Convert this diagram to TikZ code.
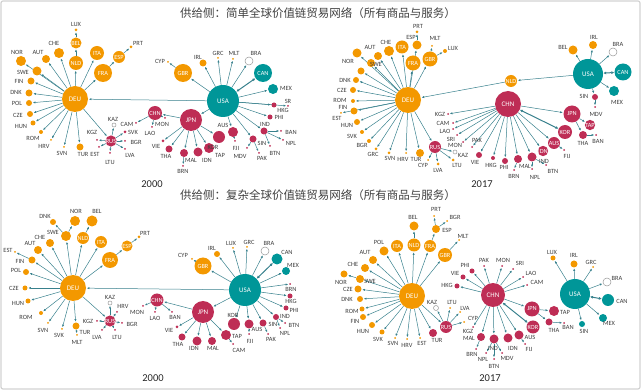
\documentclass[tikz,border=0pt]{standalone}
\usepackage{fontspec}
\setmainfont{Carlito}
\newfontfamily\cjk{Noto Sans CJK SC}
\usetikzlibrary{arrows.meta,backgrounds}

\definecolor{gvcorange}{RGB}{243,152,0}
\definecolor{gvcred}{RGB}{190,45,85}
\definecolor{gvcteal}{RGB}{0,150,152}
\definecolor{edgecol}{RGB}{55,128,140}
\definecolor{lblgray}{RGB}{60,60,60}

\tikzset{
  ornode/.style={circle,fill=gvcorange,inner sep=0pt,minimum size=#1pt},
  rdnode/.style={circle,fill=gvcred,inner sep=0pt,minimum size=#1pt},
  tlnode/.style={circle,fill=gvcteal,inner sep=0pt,minimum size=#1pt},
  whnode/.style={circle,draw=gray!80,fill=white,line width=0.5pt,inner sep=0pt,minimum size=#1pt},
  inlbl/.style={text=white,font=\fontsize{6.3}{7}\selectfont},
  biglbl/.style={text=white,font=\fontsize{7}{8}\selectfont},
  lbl/.style={text=lblgray,font=\fontsize{6.4}{7}\selectfont,inner sep=0pt},
  edge/.style={draw=edgecol,line width=0.5pt,-{Latex[length=2.6pt,width=2.2pt]},shorten >=0.6pt},
  dbl/.style={draw=edgecol,line width=1pt,{Latex[length=3pt,width=3pt]}-{Latex[length=3pt,width=3pt]}},
  title/.style={font=\cjk\fontsize{11.5}{12}\selectfont,text=black!75},
  year/.style={font=\fontsize{10.5}{12}\selectfont,text=black!85}
}

\begin{document}
\begin{tikzpicture}[x=1pt,y=-1pt]
\useasboundingbox (0,0) rectangle (641,390);
% frame
\draw[gray!35,line width=1.2pt,rounded corners=2pt] (1,1) rectangle (640,389);
% titles and years
\node[title] (t1) at (318,13) {供给侧：简单全球价值链贸易网络（所有商品与服务）};
\node[title] (t2) at (318,195) {供给侧：复杂全球价值链贸易网络（所有商品与服务）};
\node[year] (y1) at (152,184) {2000};
\node[year] (y2) at (482,184) {2017};
\node[year] (y3) at (153,378) {2000};
\node[year] (y4) at (490,378) {2017};

%%%%%%%% simple GVC, 2000
% hubs
\node[ornode=26,biglbl] (aDEU) at (75,99) {DEU};
\node[tlnode=32,biglbl] (aUSA) at (223,101) {USA};
\node[rdnode=14,inlbl] (aCHN) at (155,113) {CHN};
\node[rdnode=22,biglbl] (aJPN) at (191,120) {JPN};
\node[rdnode=11,inlbl] (aRUS) at (111,141) {RUS};
\node[ornode=14,inlbl] (aNLD) at (76,63) {NLD};
\node[ornode=11,inlbl] (aBEL) at (76,43) {BEL};
\node[ornode=14,inlbl] (aITA) at (97,53) {ITA};
\node[ornode=18,inlbl] (aFRA) at (103,73) {FRA};
\node[ornode=12,inlbl] (aESP) at (119,57) {ESP};
\node[ornode=18,inlbl] (aGBR) at (183,73) {GBR};
\node[tlnode=18,inlbl] (aCAN) at (263,73) {CAN};
% leaves
\foreach \n/\x/\y/\s/\lx/\ly in {LUX/76/30/3/76/24, PRT/131/47/3/138/43, CHE/59/53/10/54/43,
  AUT/46/59/8/38/52, NOR/21/61/10/17/52, SWE/37/71/9/23/72, FIN/31/81/7/19/81,
  DNK/29/93/7/16/92, POL/29/103/6/17/103, CZE/30/114/6/18/115, HUN/33/123/5/21/126,
  ROM/41/132/4/33/138, HRV/51/140/2/44/146, SVN/64/147/2/62/153, TUR/80/147/7/83/154,
  CYP/168/62/2/160/61, IRL/203/63/7/198/57, GRC/218/58/2/218/53, MLT/233/59/2/234/53}{
  \node[ornode=\s] (a\n) at (\x,\y) {};
  \node[lbl] (a\n-t) at (\lx,\ly) {\n};
}
\foreach \n/\x/\y/\s/\lx/\ly in {KGZ/97/140/2/92/132, SVK/125/132/3/133/132, BGR/125/141/2/136/142,
  EST/99/147/2/95/154, LTU/110/153/2/110/162, LVA/125/149/2/130/155, CAM/136/123/2/127/124,
  MON/165/118/2/162/124, LAO/152/127/2/150/133, VIE/163/141/3/156/146, THA/169/149/7/166/156,
  MAL/184/153/8/191/160, BRN/183/166/2/183/171, IDN/198/152/9/207/160, TAP/209/148/10/220/155,
  KOR/219/137/12/213/147, AUS/233/132/10/223/125, FJI/235/141/2/236/148, MDV/247/148/2/240/156,
  SIN/253/139/7/262/143, PAK/259/153/2/262/158, BTN/270/146/2/275/153, IND/264/131/7/265/124,
  BAN/281/131/2/291/132, NPL/283/140/2/291/143, PHI/270/117/5/279/117, HKG/274/105/5/283/110,
  SR/288/106/2/288/101}{
  \node[rdnode=\s] (a\n) at (\x,\y) {};
  \node[lbl] (a\n-t) at (\lx,\ly) {\n};
}
\node[tlnode=10] (aMEX) at (273,89) {};
\node[lbl] (aMEX-t) at (286,88) {MEX};
\node[whnode=8] (aBRA) at (249,61) {};
\node[lbl] (aBRA-t) at (256,53) {BRA};
\node[whnode=4] (aKAZ) at (114,125) {};
\node[lbl] (aKAZ-t) at (113,119) {KAZ};
% links
\begin{pgfonlayer}{background}
\foreach \t in {NLD,ITA,FRA,CHE,AUT,NOR,SWE,FIN,DNK,POL,CZE,HUN,ROM,HRV,SVN,TUR,RUS}
  \draw[edge] (aDEU) -- (a\t);
\foreach \t in {KAZ,SVK,BGR,LVA,LTU,EST,KGZ} \draw[edge] (aRUS) -- (a\t);
\foreach \t in {DEU,JPN,GBR,IRL,GRC,MLT,BRA,MEX,SR,HKG,PHI,IND,SIN,AUS} \draw[edge] (aUSA) -- (a\t);
\foreach \t in {CHN,KOR,TAP,IDN,MAL,THA,VIE} \draw[edge] (aJPN) -- (a\t);
\foreach \t in {MON,LAO,CAM} \draw[edge] (aCHN) -- (a\t);
\foreach \t in {BAN,NPL,BTN} \draw[edge] (aIND) -- (a\t);
\foreach \t in {PAK,MDV} \draw[edge] (aSIN) -- (a\t);
\draw[edge] (aNLD) -- (aBEL);
\draw[edge] (aBEL) -- (aLUX);
\draw[edge] (aFRA) -- (aESP);
\draw[edge] (aESP) -- (aPRT);
\draw[edge] (aGBR) -- (aCYP);
\draw[edge] (aMAL) -- (aBRN);
\draw[edge] (aAUS) -- (aFJI);
\draw[dbl] (aUSA) -- (aCAN);
\end{pgfonlayer}

%%%%%%%% simple GVC, 2017
% hubs
\node[ornode=26,biglbl] (bDEU) at (408,100) {DEU};
\node[rdnode=26,biglbl] (bCHN) at (508,104) {CHN};
\node[tlnode=30,biglbl] (bUSA) at (588,74) {USA};
\node[tlnode=17,inlbl] (bCAN) at (623,72) {CAN};
\node[rdnode=17,inlbl] (bJPN) at (572,114) {JPN};
\node[rdnode=14,inlbl] (bKOR) at (565,132) {KOR};
\node[rdnode=10,inlbl] (bTAP) at (590,125) {TAP};
\node[rdnode=12,inlbl] (bAUS) at (554,143) {AUS};
\node[rdnode=10,inlbl] (bIDN) at (543,151) {IDN};
\node[rdnode=12,inlbl] (bRUS) at (435,147) {RUS};
\node[ornode=12,inlbl] (bNLD) at (511,81) {NLD};
\node[ornode=13,inlbl] (bITA) at (402,47) {ITA};
\node[ornode=15,inlbl] (bFRA) at (413,63) {FRA};
\node[ornode=15,inlbl] (bGBR) at (430,59) {GBR};
% leaves
\foreach \n/\x/\y/\s/\lx/\ly in {PRT/417/32/3/418/26, ESP/417/45/9/411/37, MLT/432/46/2/435/38,
  LUX/445/51/4/453/48, CHE/389/51/10/386/42, AUT/378/56/8/370/47, NOR/357/53/9/348/61,
  SWE/371/63/8/376/64, DNK/356/80/6/345/80, CZE/353/90/6/342/90, ROM/353/101/4/340/100,
  FIN/354/111/7/343/107, EST/341/113/2/337/118, HUN/357/122/6/347/125, SVK/362/132/4/352/136,
  BGR/369/141/4/362/145, GRC/376/149/3/373/154, SVN/389/153/3/390/158, HRV/406/153/2/403/159,
  TUR/420/153/8/416/159, CYP/428/160/2/423/165, LVA/438/164/3/438/170, LTU/453/160/3/457/165,
  BEL/573/50/9/563/47, IRL/593/45/8/594/37}{
  \node[ornode=\s] (b\n) at (\x,\y) {};
  \node[lbl] (b\n-t) at (\lx,\ly) {\n};
}
\node[ornode=7] (bPOL) at (361,71) {};
\foreach \n/\x/\y/\s/\lx/\ly in {KGZ/448/114/2/440/114, CAM/453/123/2/443/123, LAO/453/129/2/445/131,
  SRI/457/135/2/451/139, MON/463/142/2/455/145, PAK/472/147/2/477/140, VIE/479/155/6/475/162,
  HKG/493/158/4/491/165, PHI/505/161/6/504/167, BRN/514/170/2/514/176, MAL/518/159/8/525/166,
  NPL/532/169/2/535/177, IND/532/157/9/544/161, BTN/546/165/2/553/171, FIJ/564/150/2/567/156,
  THA/583/135/8/583/143, BAN/596/135/2/598/141, SIN/595/97/6/584/96, MDV/595/107/2/596/114}{
  \node[rdnode=\s] (b\n) at (\x,\y) {};
  \node[lbl] (b\n-t) at (\lx,\ly) {\n};
}
\node[tlnode=10] (bMEX) at (614,91) {};
\node[lbl] (bMEX-t) at (617,102) {MEX};
\node[whnode=8] (bBRA) at (613,52) {};
\node[lbl] (bBRA-t) at (618,44) {BRA};
\node[whnode=4] (bKAZ) at (455,152) {};
\node[lbl] (bKAZ-t) at (463,155) {KAZ};
% links
\begin{pgfonlayer}{background}
\foreach \t in {ITA,CHE,AUT,NOR,SWE,POL,DNK,CZE,ROM,FIN,EST,HUN,SVK,BGR,GRC,SVN,HRV,TUR,RUS,FRA,GBR,ESP}
  \draw[edge] (bDEU) -- (b\t);
\foreach \t in {CYP,LVA,LTU,KAZ} \draw[edge] (bRUS) -- (b\t);
\foreach \t in {NLD,BEL,IRL,BRA,MEX,SIN} \draw[edge] (bUSA) -- (b\t);
\foreach \t in {KGZ,CAM,LAO,SRI,MON,PAK,VIE,HKG,PHI,MAL,IND,IDN,AUS,JPN} \draw[edge] (bCHN) -- (b\t);
\foreach \t in {NPL,BTN} \draw[edge] (bIND) -- (b\t);
\foreach \t in {TAP,THA} \draw[edge] (bJPN) -- (b\t);
\foreach \t in {MLT,LUX} \draw[edge] (bGBR) -- (b\t);
\draw[edge] (bNLD) -- (bDEU);
\draw[edge] (bESP) -- (bPRT);
\draw[edge] (bSIN) -- (bMDV);
\draw[edge] (bMAL) -- (bBRN);
\draw[edge] (bAUS) -- (bFIJ);
\draw[edge] (bTHA) -- (bBAN);
\draw[dbl] (bUSA) -- (bCAN);
\draw[dbl] (bCHN) -- (bKOR);
\end{pgfonlayer}

%%%%%%%% complex GVC, 2000
% hubs
\node[ornode=26,biglbl] (cDEU) at (73,288) {DEU};
\node[tlnode=32,biglbl] (cUSA) at (245,290) {USA};
\node[rdnode=22,biglbl] (cJPN) at (203,312) {JPN};
\node[rdnode=13,inlbl] (cCHN) at (157,300) {CHN};
\node[rdnode=11,inlbl] (cRUS) at (110,321) {RUS};
\node[ornode=17,inlbl] (cGBR) at (203,266) {GBR};
\node[ornode=12,inlbl] (cNLD) at (83,238) {NLD};
\node[ornode=12,inlbl] (cITA) at (101,242) {ITA};
\node[ornode=16,inlbl] (cFRA) at (110,260) {FRA};
\node[ornode=11,inlbl] (cESP) at (127,246) {ESP};
% leaves
\foreach \n/\x/\y/\s/\lx/\ly in {DNK/53/222/6/45/216, NOR/75/221/10/76/211, BEL/92/221/11/97/211,
  SWE/66/236/10/53/232, PRT/139/237/3/145/233, CHE/50/243/8/40/237, AUT/38/250/8/30/243,
  EST/15/252/2/8/250, FIN/32/260/7/20/261, POL/26/272/6/16/270, CZE/25/288/5/14/288,
  HUN/28/301/5/18/303, ROM/41/313/4/26/317, SVN/48/323/2/43/330, SVK/62/329/2/59/335,
  TUR/76/326/7/85/332, MLT/77/335/2/77/342, IRL/217/254/6/212/248, LUX/233/248/2/231/243,
  GRC/247/247/2/249/242, CYP/192/259/2/183/255}{
  \node[ornode=\s] (c\n) at (\x,\y) {};
  \node[lbl] (c\n-t) at (\lx,\ly) {\n};
}
\foreach \n/\x/\y/\s/\lx/\ly in {HRV/117/312/2/123/306, KGZ/97/321/2/88/321, BGR/122/323/2/132/324,
  LVA/102/330/2/97/337, LTU/115/330/2/117/337, MON/143/306/2/137/312, LAO/155/312/2/155/318,
  BAN/172/312/2/175/317, VIE/177/327/3/169/330, THA/182/337/7/178/344, IDN/197/341/9/194/348,
  MAL/212/341/8/213/348, TAP/226/335/10/237/336, CAM/233/344/2/239/350, KOR/234/324/12/233/315,
  AUS/249/324/9/257/329, FJI/249/334/2/250/341, SIN/263/323/7/273/324, PAK/268/334/2/271/339,
  IND/276/317/6/285/316, BTN/285/323/2/294/325, NPL/280/328/2/285/333, PHI/286/308/5/294/310,
  HKG/290/296/5/291/301, BRN/290/284/2/291/289}{
  \node[rdnode=\s] (c\n) at (\x,\y) {};
  \node[lbl] (c\n-t) at (\lx,\ly) {\n};
}
\node[tlnode=8] (cMEX) at (286,271) {};
\node[lbl] (cMEX-t) at (293,265) {MEX};
\node[tlnode=11] (cCAN) at (277,259) {};
\node[lbl] (cCAN-t) at (287,252) {CAN};
\node[whnode=8] (cBRA) at (265,251) {};
\node[lbl] (cBRA-t) at (269,243) {BRA};
\node[whnode=4] (cKAZ) at (110,303) {};
\node[lbl] (cKAZ-t) at (110,297) {KAZ};
% links
\begin{pgfonlayer}{background}
\foreach \t in {SWE,NLD,ITA,FRA,CHE,AUT,FIN,POL,CZE,HUN,ROM,SVN,SVK,TUR,RUS}
  \draw[edge] (cDEU) -- (c\t);
\foreach \t in {KAZ,HRV,KGZ,BGR,LVA,LTU} \draw[edge] (cRUS) -- (c\t);
\foreach \t in {DEU,JPN,GBR,IRL,LUX,GRC,BRA,MEX,BRN,HKG,PHI,IND,SIN,AUS,KOR} \draw[edge] (cUSA) -- (c\t);
\foreach \t in {CHN,VIE,THA,IDN,MAL,TAP} \draw[edge] (cJPN) -- (c\t);
\foreach \t in {MON,LAO,BAN} \draw[edge] (cCHN) -- (c\t);
\foreach \t in {DNK,NOR} \draw[edge] (cSWE) -- (c\t);
\foreach \t in {BTN,NPL} \draw[edge] (cIND) -- (c\t);
\draw[edge] (cNLD) -- (cBEL);
\draw[edge] (cFRA) -- (cESP);
\draw[edge] (cESP) -- (cPRT);
\draw[edge] (cFIN) -- (cEST);
\draw[edge] (cTUR) -- (cMLT);
\draw[edge] (cGBR) -- (cCYP);
\draw[edge] (cTAP) -- (cCAM);
\draw[edge] (cAUS) -- (cFJI);
\draw[edge] (cSIN) -- (cPAK);
\draw[dbl] (cUSA) -- (cCAN);
\end{pgfonlayer}

%%%%%%%% complex GVC, 2017
% hubs
\node[ornode=26,biglbl] (dDEU) at (412,296) {DEU};
\node[rdnode=24,biglbl] (dCHN) at (493,295) {CHN};
\node[tlnode=30,biglbl] (dUSA) at (575,294) {USA};
\node[rdnode=15,inlbl] (dJPN) at (532,309) {JPN};
\node[rdnode=13,inlbl] (dKOR) at (533,327) {KOR};
\node[rdnode=12,inlbl] (dRUS) at (446,327) {RUS};
\node[ornode=13,inlbl] (dNLD) at (414,245) {NLD};
\node[ornode=12,inlbl] (dITA) at (397,246) {ITA};
\node[ornode=12,inlbl] (dFRA) at (430,246) {FRA};
\node[ornode=14,inlbl] (dGBR) at (445,255) {GBR};
% leaves
\foreach \n/\x/\y/\s/\lx/\ly in {PRT/434/216/2/436/209, BGR/447/221/2/455/217, ESP/436/229/8/447/230,
  MLT/459/240/2/463/236, BEL/414/226/9/413/217, POL/384/251/9/379/242, AUT/373/260/8/365/252,
  CHE/365/268/8/353/264, SWE/360/279/8/370/281, NOR/344/274/7/341/282, CZE/358/289/7/348/289,
  DNK/360/299/6/347/299, ROM/362/309/5/352/311, FIN/363/317/6/355/321, HUN/372/325/6/363/331,
  SVK/382/332/5/378/339, SVN/395/338/2/393/343, HRV/407/339/2/407/345, EST/420/338/2/422/343,
  LTU/450/308/2/452/302, LVA/460/312/2/465/308, CYP/464/322/2/473/318, LUX/553/258/5/552/252,
  IRL/574/264/7/574/255, GRC/593/267/2/591/262}{
  \node[ornode=\s] (d\n) at (\x,\y) {};
  \node[lbl] (d\n-t) at (\lx,\ly) {\n};
}
\foreach \n/\x/\y/\s/\lx/\ly in {TUR/433/333/8/437/340, KGZ/473/327/2/468/331, MAL/481/337/8/469/338,
  BRN/476/349/2/472/354, IND/494/339/9/493/348, NPL/486/353/2/483/359, BTN/494/359/2/494/366,
  MDV/502/353/2/507/358, IDN/508/338/9/513/348, AUS/519/335/9/530/337, FIJ/525/344/2/529/349,
  TAP/554/311/10/565/312, THA/549/322/7/554/330, BAN/564/323/2/568/327, HKG/457/286/5/447/285,
  VIE/463/277/5/455/273, PHI/472/271/5/465/265, PAK/484/266/2/484/260, MON/502/266/2/503/260,
  SRI/513/269/2/520/263, LAO/523/277/2/531/273, CAM/527/285/2/537/282}{
  \node[rdnode=\s] (d\n) at (\x,\y) {};
  \node[lbl] (d\n-t) at (\lx,\ly) {\n};
}
\foreach \n/\x/\y/\s/\lx/\ly in {CAN/608/300/12/622/301, MEX/603/318/8/609/323, SIN/582/324/6/584/331}{
  \node[tlnode=\s] (d\n) at (\x,\y) {};
  \node[lbl] (d\n-t) at (\lx,\ly) {\n};
}
\node[whnode=8] (dBRA) at (607,282) {};
\node[lbl] (dBRA-t) at (617,278) {BRA};
\node[whnode=5] (dKAZ) at (436,308) {};
\node[lbl] (dKAZ-t) at (432,302) {KAZ};
% links
\begin{pgfonlayer}{background}
\foreach \t in {NLD,ITA,FRA,GBR,POL,AUT,CHE,SWE,CZE,DNK,ROM,FIN,HUN,SVK,SVN,HRV,EST,TUR,RUS}
  \draw[edge] (dDEU) -- (d\t);
\foreach \t in {KAZ,LTU,LVA,CYP} \draw[edge] (dRUS) -- (d\t);
\foreach \t in {KGZ,MAL,IND,IDN,AUS,JPN,HKG,VIE,PHI,PAK,MON,SRI,LAO,CAM} \draw[edge] (dCHN) -- (d\t);
\foreach \t in {NPL,BTN,MDV} \draw[edge] (dIND) -- (d\t);
\foreach \t in {TAP,THA} \draw[edge] (dJPN) -- (d\t);
\foreach \t in {LUX,IRL,GRC,BRA,MEX,SIN} \draw[edge] (dUSA) -- (d\t);
\foreach \t in {PRT,BGR} \draw[edge] (dESP) -- (d\t);
\draw[edge] (dNLD) -- (dBEL);
\draw[edge] (dFRA) -- (dESP);
\draw[edge] (dGBR) -- (dMLT);
\draw[edge] (dSWE) -- (dNOR);
\draw[edge] (dMAL) -- (dBRN);
\draw[edge] (dAUS) -- (dFIJ);
\draw[edge] (dTHA) -- (dBAN);
\draw[dbl] (dUSA) -- (dCAN);
\draw[dbl] (dCHN) -- (dKOR);
\end{pgfonlayer}
\end{tikzpicture}
\end{document}
